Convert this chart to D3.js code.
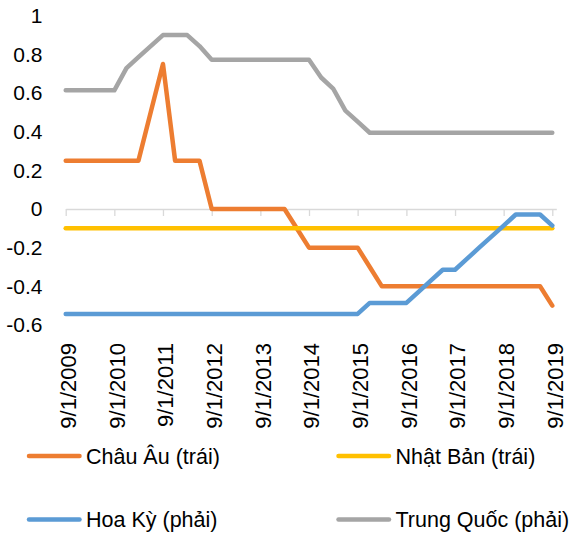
<!DOCTYPE html>
<html>
<head>
<meta charset="utf-8">
<script src="https://cdn.jsdelivr.net/npm/d3@7"></script>
<style>
  body { margin: 0; background: #fff; }
  svg { display: block; font-family: "Liberation Sans", Arial, sans-serif; }
</style>
</head>
<body>
<div id="chart"></div>
<script>
// Quarterly observations
const dates = [
  '2009-09-01', '2009-12-01',
  '2010-03-01', '2010-06-01', '2010-09-01', '2010-12-01',
  '2011-03-01', '2011-06-01', '2011-09-01', '2011-12-01',
  '2012-03-01', '2012-06-01', '2012-09-01', '2012-12-01',
  '2013-03-01', '2013-06-01', '2013-09-01', '2013-12-01',
  '2014-03-01', '2014-06-01', '2014-09-01', '2014-12-01',
  '2015-03-01', '2015-06-01', '2015-09-01', '2015-12-01',
  '2016-03-01', '2016-06-01', '2016-09-01', '2016-12-01',
  '2017-03-01', '2017-06-01', '2017-09-01', '2017-12-01',
  '2018-03-01', '2018-06-01', '2018-09-01', '2018-12-01',
  '2019-03-01', '2019-06-01', '2019-09-01'
];

// left axis
const europe = [
  0.25, 0.25,
  0.25, 0.25, 0.25, 0.25,
  0.25, 0.5, 0.75, 0.25,
  0.25, 0.25, 0, 0,
  0, 0, 0, 0,
  0, -0.1, -0.2, -0.2,
  -0.2, -0.2, -0.2, -0.3,
  -0.4, -0.4, -0.4, -0.4,
  -0.4, -0.4, -0.4, -0.4,
  -0.4, -0.4, -0.4, -0.4,
  -0.4, -0.4, -0.5
];
const japan = [
  -0.1, -0.1,
  -0.1, -0.1, -0.1, -0.1,
  -0.1, -0.1, -0.1, -0.1,
  -0.1, -0.1, -0.1, -0.1,
  -0.1, -0.1, -0.1, -0.1,
  -0.1, -0.1, -0.1, -0.1,
  -0.1, -0.1, -0.1, -0.1,
  -0.1, -0.1, -0.1, -0.1,
  -0.1, -0.1, -0.1, -0.1,
  -0.1, -0.1, -0.1, -0.1,
  -0.1, -0.1, -0.1
];

// right axis (not shown)
const usa = [
  0.25, 0.25,
  0.25, 0.25, 0.25, 0.25,
  0.25, 0.25, 0.25, 0.25,
  0.25, 0.25, 0.25, 0.25,
  0.25, 0.25, 0.25, 0.25,
  0.25, 0.25, 0.25, 0.25,
  0.25, 0.25, 0.25, 0.5,
  0.5, 0.5, 0.5, 0.75,
  1.0, 1.25, 1.25, 1.5,
  1.75, 2.0, 2.25, 2.5,
  2.5, 2.5, 2.25
];
const china = [
  5.31, 5.31,
  5.31, 5.31, 5.31, 5.81,
  6.06, 6.31, 6.56, 6.56,
  6.56, 6.31, 6.0, 6.0,
  6.0, 6.0, 6.0, 6.0,
  6.0, 6.0, 6.0, 5.6,
  5.35, 4.85, 4.6, 4.35,
  4.35, 4.35, 4.35, 4.35,
  4.35, 4.35, 4.35, 4.35,
  4.35, 4.35, 4.35, 4.35,
  4.35, 4.35, 4.35
];

const xTicks = ['2009-09-01', '2010-09-01', '2011-09-01', '2012-09-01', '2013-09-01',
  '2014-09-01', '2015-09-01', '2016-09-01', '2017-09-01', '2018-09-01', '2019-09-01'];
const yTicks = [-0.6, -0.4, -0.2, 0, 0.2, 0.4, 0.6, 0.8, 1];

const series = [
  { name: 'Châu Âu (trái)', values: europe, axis: 'left', color: '#ED7D31' },
  { name: 'Nhật Bản (trái)', values: japan, axis: 'left', color: '#FFC000' },
  { name: 'Hoa Kỳ (phải)', values: usa, axis: 'right', color: '#5B9BD5' },
  { name: 'Trung Quốc (phải)', values: china, axis: 'right', color: '#A5A5A5' }
];

const width = 571, height = 533;
const parse = d3.utcParse('%Y-%m-%d');
const fmtTick = d3.utcFormat('%-m/%-d/%Y');

const svg = d3.select('#chart')
  .append('svg')
  .attr('width', width)
  .attr('height', height);

const x = d3.scaleUtc()
  .domain([parse('2009-09-01'), parse('2019-10-01')])
  .range([65.7, 556.3]);

const yLeft = d3.scaleLinear().domain([-0.6, 1]).range([325, 15.6]);
const yRight = d3.scaleLinear().domain([0, 7]).range([325, 15.6]);

// x axis on the zero line
const xAxis = svg.append('g')
  .attr('transform', `translate(0,${yLeft(0)})`)
  .call(d3.axisBottom(x)
    .tickValues(xTicks.map(parse))
    .tickSize(7)
    .tickSizeOuter(0)
    .tickFormat(fmtTick));
xAxis.select('.domain').attr('stroke', '#D9D9D9').attr('stroke-width', 1.3);
xAxis.selectAll('.tick line').attr('stroke', '#D9D9D9').attr('stroke-width', 1.3);
xAxis.selectAll('.tick text')
  .attr('x', 0)
  .attr('y', 0)
  .attr('dy', '0.35em')
  .attr('transform', `translate(2,${343 - yLeft(0)}) rotate(-90)`)
  .style('text-anchor', 'end')
  .style('font-size', '22px')
  .style('font-family', '"Liberation Sans", Arial, sans-serif')
  .attr('fill', '#000');

// left axis, labels only
const yAxis = svg.append('g')
  .attr('transform', 'translate(45.5,0)')
  .call(d3.axisLeft(yLeft)
    .tickValues(yTicks)
    .tickSize(0)
    .tickPadding(3)
    .tickFormat(d => String(d)));
yAxis.select('.domain').remove();
yAxis.selectAll('.tick text')
  .style('font-size', '21px')
  .style('font-family', '"Liberation Sans", Arial, sans-serif')
  .attr('fill', '#000');

// lines
series.forEach(s => {
  const y = s.axis === 'left' ? yLeft : yRight;
  const line = d3.line()
    .x((d, i) => x(parse(dates[i])))
    .y(d => y(d));
  svg.append('path')
    .datum(s.values)
    .attr('fill', 'none')
    .attr('stroke', s.color)
    .attr('stroke-width', 4.5)
    .attr('stroke-linejoin', 'round')
    .attr('stroke-linecap', 'round')
    .attr('d', line);
});

// legend, 2 x 2
const legend = svg.append('g');
const legendPos = [
  { x: 29, y: 456 }, { x: 338.5, y: 456 },
  { x: 29, y: 519.5 }, { x: 338.5, y: 519.5 }
];
series.forEach((s, i) => {
  const p = legendPos[i];
  legend.append('line')
    .attr('x1', p.x).attr('x2', p.x + 50.5)
    .attr('y1', p.y).attr('y2', p.y)
    .attr('stroke', s.color)
    .attr('stroke-width', 4.5)
    .attr('stroke-linecap', 'round');
  legend.append('text')
    .attr('x', p.x + 57)
    .attr('y', p.y + 7.6)
    .style('font-size', '21.5px')
    .attr('fill', '#000')
    .text(s.name);
});
</script>
</body>
</html>
